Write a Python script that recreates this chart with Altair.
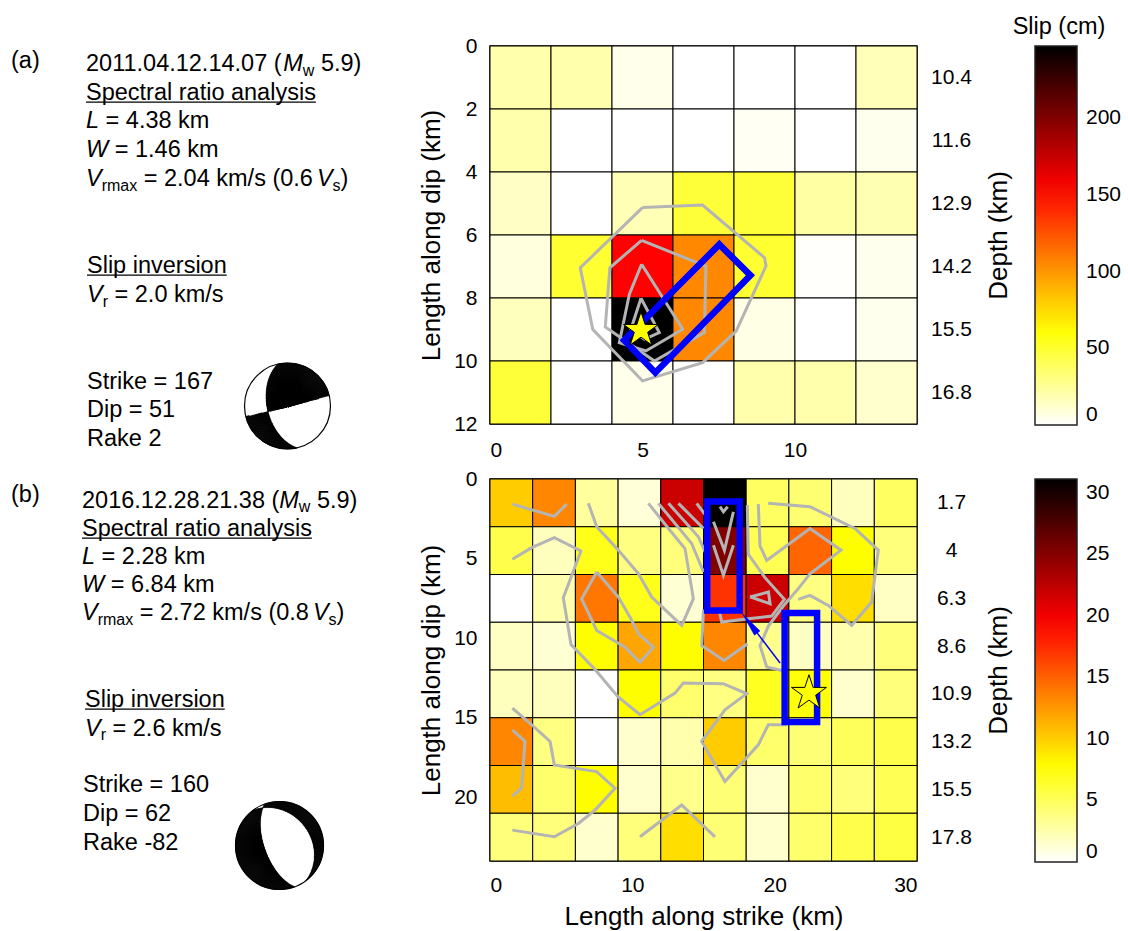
import math
import numpy as np
import pandas as pd
import altair as alt

FONT = "Liberation Sans"
FS = 23.5     # annotation text size
SUB = 16      # subscript size

SLIP_A = [
    [20, 20, 5, 0, 0, 0, 17],
    [20, 0, 0, 0, 3, 0, 4],
    [14, 0, 18, 48, 48, 22, 19],
    [8, 50, 154, 105, 50, 1, 4],
    [16, 0, 247, 105, 6, 0, 4],
    [48, 0, 5, 0, 20, 20, 12],
]
SLIP_A_MAX = 247
DX_A, DY_A = 2, 2
XTICKS_A = [0, 5, 10]
YTICKS_A = [0, 2, 4, 6, 8, 10, 12]
DEPTH_A = ["10.4", "11.6", "12.9", "14.2", "15.5", "16.8"]
CBAR_A = [0, 50, 100, 150, 200]

SLIP_B = [
    [10.1, 13.3, 3.0, 1.2, 21.8, 31.1, 4.8, 4.3, 2.0, 4.8],
    [5.5, 2.0, 7.0, 3.8, 4.0, 25.3, 5.2, 14.8, 7.8, 4.0],
    [0.0, 2.5, 14.0, 7.0, 1.3, 17.1, 21.8, 3.8, 9.3, 1.8],
    [1.8, 1.3, 7.8, 11.9, 7.8, 13.3, 3.5, 1.8, 2.5, 4.0],
    [2.0, 2.0, 0.0, 7.8, 4.5, 3.8, 6.8, 7.5, 1.5, 4.0],
    [13.3, 3.8, 0.0, 1.5, 2.5, 10.1, 4.5, 4.2, 5.0, 5.5],
    [10.8, 4.5, 7.8, 1.5, 3.5, 4.2, 1.5, 4.5, 4.0, 5.2],
    [4.0, 4.0, 1.5, 4.0, 9.3, 4.2, 1.5, 4.5, 5.5, 5.8],
]
SLIP_B_MAX = 31.1
DX_B, DY_B = 3, 3
XTICKS_B = [0, 10, 20, 30]
YTICKS_B = [0, 5, 10, 15, 20]
DEPTH_B = ["1.7", "4", "6.3", "8.6", "10.9", "13.2", "15.5", "17.8"]
CBAR_B = [0, 5, 10, 15, 20, 25, 30]

CONTOURS_A = [
    [(5.0, 5.13), (6.97, 5.05), (9.0, 6.72), (9.05, 6.98), (8.07, 9.05), (6.97, 10.05),
     (5.0, 10.63), (3.37, 9.0), (2.96, 7.04), (5.0, 5.13)],
    [(4.97, 6.17), (7.08, 6.99), (7.03, 9.10), (5.39, 10.0), (3.78, 8.92), (3.93, 7.04), (4.97, 6.17)],
    [(4.97, 6.93), (6.32, 8.99), (5.11, 9.68), (4.24, 9.42), (4.57, 7.88), (4.97, 6.93)],
    [(4.95, 8.01), (5.55, 9.10), (5.06, 9.31), (4.62, 8.99), (4.95, 8.01)],
]
CONTOURS_B = [
    [(1.57, 1.58), (4.52, 2.35), (5.39, 1.58)],
    [(1.57, 5.04), (2.93, 4.31), (4.52, 3.68), (6.39, 4.52), (5.15, 7.46), (5.69, 10.40),
     (7.38, 11.97), (8.97, 13.66), (10.54, 14.81), (13.0, 13.45), (13.58, 12.82), (16.39, 12.86),
     (18.03, 13.49), (16.51, 14.5), (14.87, 16.49), (16.51, 19.01), (18.85, 16.70), (19.55, 15.44),
     (20.84, 15.44)],
    [(6.91, 1.53), (7.50, 3.0), (9.02, 4.47), (10.43, 5.95), (11.36, 7.42), (13.47, 9.20),
     (14.29, 7.52), (13.70, 4.37), (12.54, 3.11), (11.13, 1.53)],
    [(7.50, 5.84), (9.02, 7.42), (9.84, 8.68), (10.43, 9.73), (11.48, 10.57), (10.54, 11.51),
     (9.49, 10.57), (7.50, 9.52), (6.44, 7.52), (7.50, 5.84)],
    [(11.83, 1.53), (14.17, 4.05), (15.0, 5.84)],
    [(12.54, 1.53), (14.64, 3.63), (15.11, 4.58)],
    [(13.24, 1.53), (15.0, 3.11)],
    [(14.52, 1.53), (15.23, 2.37)],
    [(16.16, 1.74), (16.40, 2.06), (16.70, 1.74)],
    [(15.70, 2.69), (16.47, 4.48), (17.10, 2.06)],
    [(15.70, 4.16), (16.40, 6.05), (17.10, 4.16)],
    [(15.0, 8.2), (14.88, 10.47), (16.45, 11.4), (18.1, 10.35)],
    [(18.85, 1.58), (18.97, 4.20), (19.44, 5.11), (22.48, 3.11), (24.66, 4.47), (22.48, 5.95),
     (21.66, 6.89), (20.61, 7.98), (19.56, 9.24), (18.97, 10.46), (19.44, 11.81), (20.73, 12.08)],
    [(19.55, 1.53), (22.48, 1.74), (25.64, 3.11), (27.28, 4.47), (26.81, 7.73), (25.41, 9.20),
     (23.77, 7.94), (22.48, 7.31), (21.66, 7.56)],
    [(18.08, 1.64), (18.15, 4.73), (19.32, 6.20), (20.68, 7.56), (19.79, 8.61), (18.15, 8.78),
     (16.28, 8.99), (16.09, 8.19)],
    [(18.27, 7.41), (19.56, 7.10), (19.68, 7.84), (18.27, 7.41)],
    [(1.57, 14.39), (2.93, 15.44), (4.22, 16.49), (4.52, 17.96), (7.49, 18.38), (8.78, 19.43),
     (7.38, 20.80), (6.21, 21.64), (4.52, 22.48), (1.57, 22.06)],
    [(1.57, 15.76), (2.46, 16.49), (2.22, 19.43), (1.57, 19.92)],
    [(10.54, 22.48), (13.47, 20.48), (15.81, 22.48)],
]

RECTS_A = [[(7.52, 6.30), (8.54, 7.28), (5.42, 10.37), (4.40, 9.34), (7.52, 6.30)]]
RECTS_B = [
    [(15.26, 1.42), (17.54, 1.42), (17.54, 8.26), (15.26, 8.26), (15.26, 1.42)],
    [(20.70, 8.42), (22.98, 8.42), (22.98, 15.26), (20.70, 15.26), (20.70, 8.42)],
]
STAR_A = (4.95, 9.02)
STAR_B = (22.41, 13.45)
ARROW_B = [(20.38, 11.56), (17.92, 8.68)]

MECH_A = (167, 51, 2)
MECH_B = (160, 62, -82)

# text runs: "n" normal, "i" italic, "s" subscript, "g" horizontal gap in px
TEXT_A = [
    [("(a)", "n")],
    [("2011.04.12.14.07 (", "n"), ("M", "i"), ("w", "s"), (" 5.9)", "n")],
    [("Spectral ratio analysis", "n")],
    [("L", "i"), (" = 4.38 km", "n")],
    [("W", "i"), (" = 1.46 km", "n")],
    [("V", "i"), ("rmax", "s"), (" = 2.04 km/s (0.6", "n"), ("4", "g"), ("V", "i"), ("s", "s"), (")", "n")],
    [("Slip inversion", "n")],
    [("V", "i"), ("r", "s"), (" = 2.0 km/s", "n")],
    [("Strike = 167", "n")],
    [("Dip = 51", "n")],
    [("Rake 2", "n")],
]
TEXT_B = [
    [("(b)", "n")],
    [("2016.12.28.21.38 (", "n"), ("M", "i"), ("w", "s"), (" 5.9)", "n")],
    [("Spectral ratio analysis", "n")],
    [("L", "i"), (" = 2.28 km", "n")],
    [("W", "i"), (" = 6.84 km", "n")],
    [("V", "i"), ("rmax", "s"), (" = 2.72 km/s (0.8", "n"), ("4", "g"), ("V", "i"), ("s", "s"), (")", "n")],
    [("Slip inversion", "n")],
    [("V", "i"), ("r", "s"), (" = 2.6 km/s", "n")],
    [("Strike = 160", "n")],
    [("Dip = 62", "n")],
    [("Rake -82", "n")],
]
UNDERLINED = [2, 6]

W_PLOT = 427
H_A, H_B = 378, 382
ORIGIN_A = (489, 45)
ORIGIN_B = (489, 476)
POS_A = [(10, 67), (85, 70), (85, 98.5), (85, 127.3), (85, 156), (85, 185),
         (86, 271.5), (86, 301), (86, 387.5), (86, 416), (86, 444.5)]
POS_B = [(10, 498.5), (81, 504.5), (81, 532.5), (81, 560.5), (81, 588.5), (81, 617),
         (84, 703.5), (84, 732.5), (82, 788.5), (82, 817.5), (82, 847)]
BALL_A = (286.5, 405, 43)
BALL_B = (278.5, 842.5, 44)

AW = {' ': 278, '(': 333, ')': 333, '.': 278, '/': 278, '=': 584, '-': 333,
      'A': 667, 'D': 722, 'L': 556, 'M': 833, 'R': 722, 'S': 667, 'V': 667, 'W': 944,
      'a': 556, 'b': 556, 'c': 500, 'e': 556, 'i': 222, 'k': 500, 'l': 222, 'm': 833,
      'n': 556, 'o': 556, 'p': 556, 'r': 333, 's': 500, 't': 278, 'v': 500, 'w': 722,
      'x': 500, 'y': 500}


def tw(s, size):
    return sum(AW.get(ch, 556) for ch in s) * size / 1000.0


def star_path(inner=0.382):
    pts = []
    for k in range(10):
        rad = 1.0 if k % 2 == 0 else inner
        a = math.radians(-90 + 36 * k)
        pts.append((rad * math.cos(a), rad * math.sin(a)))
    pts.append(pts[0])
    return "M" + " L".join(f"{x:.4f},{y:.4f}" for x, y in pts)


STAR_SHAPE = star_path()

ONE = pd.DataFrame({"k": [0]})


def cells(vals, dx, dy):
    rows = []
    for r, row in enumerate(vals):
        for c, v in enumerate(row):
            rows.append(dict(x0=c * dx, x1=(c + 1) * dx, y0=r * dy, y1=(r + 1) * dy, slip=v))
    return pd.DataFrame(rows)


def lines_df(lines):
    rows = []
    for i, l in enumerate(lines):
        for j, (x, y) in enumerate(l):
            rows.append(dict(id=i, o=j, x=x, y=y))
    return pd.DataFrame(rows)


def beachball_rows(strike, dip, rake, R, nth=360, nr=240):
    phi, dl, lam = np.radians([strike, dip, rake])
    n = np.array([-np.sin(dl) * np.sin(phi), np.sin(dl) * np.cos(phi), -np.cos(dl)])
    d = np.array([np.cos(lam) * np.cos(phi) + np.cos(dl) * np.sin(lam) * np.sin(phi),
                  np.cos(lam) * np.sin(phi) - np.cos(dl) * np.sin(lam) * np.cos(phi),
                  -np.sin(lam) * np.sin(dl)])
    rr = (np.arange(nr) + 0.5) / nr
    inc = 2 * np.arcsin(rr / np.sqrt(2))
    dth = 2 * np.pi / nth
    rows = []
    for k in range(nth):
        az = (k + 0.5) * dth
        v = np.stack([np.sin(inc) * np.cos(az), np.sin(inc) * np.sin(az), np.cos(inc)])
        black = (n @ v) * (d @ v) > 0
        j = 0
        while j < nr:
            if black[j]:
                j0 = j
                while j < nr and black[j]:
                    j += 1
                rows.append(dict(t0=float(k * dth), t1=float((k + 1) * dth),
                                 ri=float(j0 / nr * R), ro=float(j / nr * R)))
            else:
                j += 1
    return pd.DataFrame(rows)


def label_expr(centers, labels):
    parts = [f"abs(datum.value - {c}) < 0.01 ? '{l}'" for c, l in zip(centers, labels)]
    return " : ".join(parts) + " : ''"


def panel(slip, smax, dx, dy, ncol, nrow, xticks, yticks, depth, cvals, contours, rects,
          star, texts, pos, ball, mech, origin, height, xtitle, arrow=None, cbar_title=None,
          top_anchor=None, bottom_anchor=None):
    ox, oy = origin
    xmax, ymax = ncol * dx, nrow * dy
    kx, ky = W_PLOT / xmax, height / ymax          # pixels per km
    xs = alt.Scale(domain=[0, xmax], nice=False, zero=False)
    ys = alt.Scale(domain=[0, ymax], nice=False, zero=False, reverse=True)
    if xtitle:
        xaxis = alt.Axis(values=xticks, title=xtitle, labelPadding=13.5, titleX=W_PLOT / 2,
                         titleY=913 - (oy + height), titleAlign="center", titleBaseline="middle",
                         ticks=False, domain=False, grid=False)
    else:
        xaxis = alt.Axis(values=xticks, title=None, labelPadding=15, ticks=False,
                         domain=False, grid=False)
    yaxis = alt.Axis(values=yticks, title="Length along dip (km)", labelPadding=13,
                     titleAngle=270, titleX=-59, titleY=height / 2, titleAlign="center",
                     titleBaseline="middle", ticks=False, domain=False, grid=False)

    def X(f):
        return alt.X(f, type="quantitative", scale=xs, axis=xaxis)

    def Y(f):
        return alt.Y(f, type="quantitative", scale=ys, axis=yaxis)

    cs = alt.Scale(domain=[0, 0.25 * smax, 0.625 * smax, smax],
                   range=["#ffffff", "#ffff00", "#ff0000", "#000000"],
                   interpolate="rgb", clamp=True)
    legend = alt.Legend(orient="none", legendX=1034 - ox, legendY=0, direction="vertical",
                        gradientLength=height + 1, gradientThickness=42, title=None,
                        values=cvals, labelFontSize=21, labelFont=FONT, labelOffset=9,
                        gradientStrokeColor="#222222", gradientStrokeWidth=1.5,
                        labelBaseline="middle", labelOverlap=False, labelColor="black",
                        padding=0)

    layers = []
    heat = alt.Chart(cells(slip, dx, dy)).mark_rect(stroke="black", strokeWidth=1).encode(
        x=X("x0"), x2="x1", y=Y("y0"), y2="y1",
        color=alt.Color("slip:Q", scale=cs, legend=legend))
    layers.append(heat)
    layers.append(alt.Chart(lines_df(contours)).mark_line(
        color="#b4b4b4", strokeWidth=3).encode(
        x=X("x"), y=Y("y"), detail="id:N", order="o:Q"))
    layers.append(alt.Chart(lines_df(rects)).mark_line(
        color="#0000ff", strokeWidth=6.5, strokeJoin="miter", strokeCap="square").encode(
        x=X("x"), y=Y("y"), detail="id:N", order="o:Q"))
    if arrow is not None:
        (tx, ty), (hx, hy) = arrow
        dxp, dyp = (hx - tx) * kx, (hy - ty) * ky
        ln = math.hypot(dxp, dyp)
        ux, uy = dxp / ln, dyp / ln
        ang = math.degrees(math.atan2(dxp, -dyp)) % 360
        head_len = 24.0
        r = head_len / math.sqrt(3)
        size = (2 * r) ** 2
        cxk = hx - (head_len / 2) * ux / kx
        cyk = hy - (head_len / 2) * uy / ky
        bxk = hx - head_len * 0.8 * ux / kx
        byk = hy - head_len * 0.8 * uy / ky
        layers.append(alt.Chart(pd.DataFrame({"x": [tx, bxk], "y": [ty, byk], "o": [0, 1]}))
                      .mark_line(color="#0000ff", strokeWidth=1.5)
                      .encode(x=X("x"), y=Y("y"), order="o:Q"))
        layers.append(alt.Chart(pd.DataFrame({"x": [cxk], "y": [cyk]})).mark_point(
            shape="wedge", filled=True, fill="#0000ff", stroke="#0000ff", strokeWidth=0.5,
            opacity=1, size=size, angle=ang).encode(x=X("x"), y=Y("y")))
    layers.append(alt.Chart(pd.DataFrame({"x": [star[0]], "y": [star[1]]})).mark_point(
        shape=STAR_SHAPE, filled=True, fill="#ffff00", stroke="black", strokeWidth=1,
        size=1350, opacity=1).encode(x=X("x"), y=Y("y")))

    for li, (line, (px, py)) in enumerate(zip(texts, pos)):
        cx = px
        for txt, kind in line:
            if kind == "g":
                cx += float(txt)
                continue
            if kind == "s":
                size_, style, dyy = SUB, "normal", 4.5
            elif kind == "i":
                size_, style, dyy = FS, "italic", 0
            else:
                size_, style, dyy = FS, "normal", 0
            lead = len(txt) - len(txt.lstrip(" "))
            layers.append(alt.Chart(ONE).mark_text(
                text=txt.strip(" "), font=FONT, fontSize=size_, fontStyle=style, align="left",
                baseline="alphabetic", color="black").encode(
                x=alt.value(cx + tw(" " * lead, size_) - ox), y=alt.value(py + dyy - oy)))
            cx += tw(txt, size_)
        if li in UNDERLINED:
            layers.append(alt.Chart(ONE).mark_rule(color="black", strokeWidth=1.3).encode(
                x=alt.value(px - ox), x2=alt.value(cx - ox), y=alt.value(py + 2.7 - oy)))

    bx, by, br = ball
    layers.append(alt.Chart(beachball_rows(*mech, br)).mark_arc(
        fill="black", stroke="black", strokeWidth=0.6).encode(
        theta=alt.Theta("t0:Q", scale=None), theta2="t1:Q",
        radius=alt.Radius("ro:Q", scale=None), radius2="ri:Q",
        x=alt.value(bx - ox), y=alt.value(by - oy)))
    layers.append(alt.Chart(ONE).mark_point(
        shape="circle", filled=False, stroke="black", strokeWidth=1.2, opacity=1,
        size=(2 * br) ** 2).encode(x=alt.value(bx - ox), y=alt.value(by - oy)))

    if cbar_title:
        layers.append(alt.Chart(ONE).mark_text(
            text=cbar_title, font=FONT, fontSize=FS, align="center", baseline="alphabetic",
            color="black").encode(x=alt.value(1058 - ox), y=alt.value(33 - oy)))

    for (ax, ay) in [a for a in (top_anchor, bottom_anchor) if a is not None]:
        layers.append(alt.Chart(ONE).mark_point(size=1, opacity=0).encode(
            x=alt.value(ax - ox), y=alt.value(ay - oy)))

    inner = alt.layer(*layers)

    centers = [(i + 0.5) * dy for i in range(nrow)]
    daxis = alt.Axis(orient="right", values=centers, labelExpr=label_expr(centers, depth),
                     title="Depth (km)", labelAlign="center", labelBaseline="middle",
                     labelPadding=34, ticks=False, domain=False, grid=False,
                     titleAngle=270, titleX=81, titleY=height / 2, titleAlign="center",
                     titleBaseline="middle")
    depth_layer = alt.Chart(pd.DataFrame({"c": centers})).mark_point(opacity=0).encode(
        y=alt.Y("c:Q", scale=ys, axis=daxis))

    return alt.layer(inner, depth_layer).resolve_scale(y="independent").properties(
        width=W_PLOT, height=height)


pa = panel(SLIP_A, SLIP_A_MAX, DX_A, DY_A, 7, 6, XTICKS_A, YTICKS_A, DEPTH_A, CBAR_A,
           CONTOURS_A, RECTS_A, STAR_A, TEXT_A, POS_A, BALL_A, MECH_A, ORIGIN_A, H_A,
           None, cbar_title="Slip (cm)", top_anchor=(0.5, 0.5), bottom_anchor=(0.5, 463.5))
pb = panel(SLIP_B, SLIP_B_MAX, DX_B, DY_B, 10, 8, XTICKS_B, YTICKS_B, DEPTH_B, CBAR_B,
           CONTOURS_B, RECTS_B, STAR_B, TEXT_B, POS_B, BALL_B, MECH_B, ORIGIN_B, H_B,
           "Length along strike (km)", arrow=ARROW_B, top_anchor=(0.5, 464.5))

chart = alt.vconcat(pa, pb, spacing=0).resolve_scale(
    color="independent", x="independent", y="independent"
).properties(padding=0, background="white").configure_view(
    stroke="black", strokeWidth=1.5
).configure_axis(
    labelFont=FONT, titleFont=FONT, labelFontSize=21, titleFontSize=26,
    labelColor="black", titleColor="black", titleFontWeight="normal"
)

chart.save("out.html", embed_options={"renderer": "svg", "actions": False})
